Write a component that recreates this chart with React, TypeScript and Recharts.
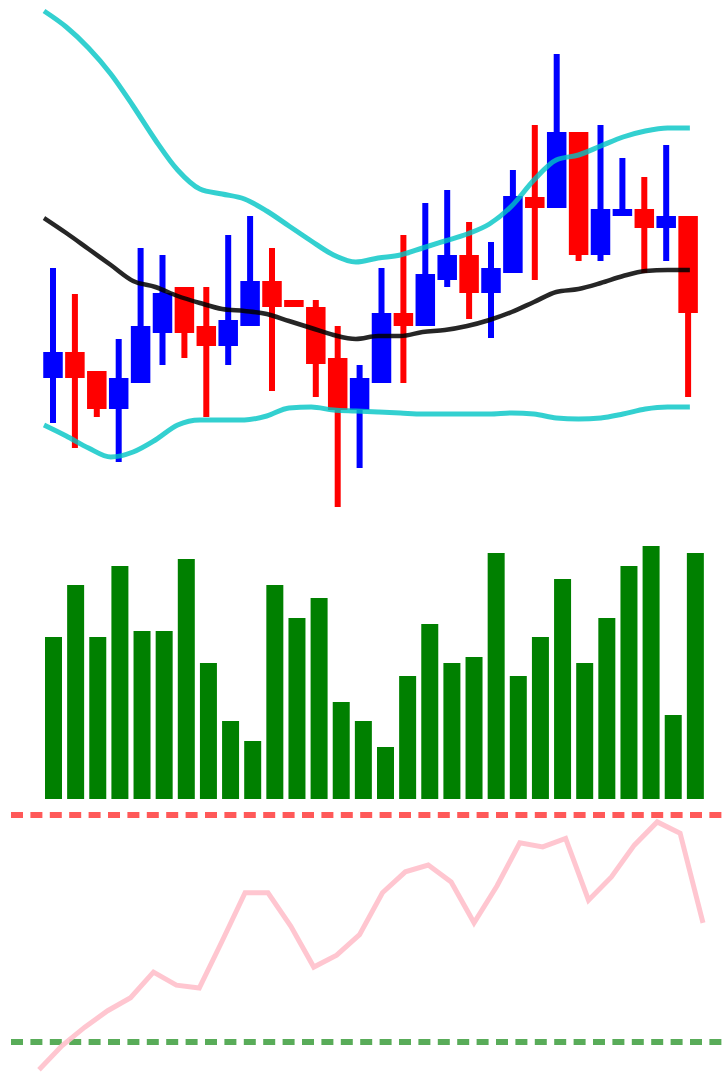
import { ComposedChart, BarChart, LineChart, Bar, Line, XAxis, YAxis, ReferenceLine } from "recharts";

// candles
const opens = [88.2, 90.8, 88.9, 85.1, 87.7, 92.7, 97.3, 93.4, 91.4, 93.4, 97.9, 96.0, 95.3, 90.2, 85.0, 87.7, 94.7, 93.4, 98.0, 100.5, 96.7, 98.7, 106.3, 105.2, 112.8, 100.5, 104.4, 105.1, 103.2, 104.4];
const highs = [99.2, 96.6, 88.9, 92.1, 101.2, 100.5, 97.3, 97.3, 102.5, 104.4, 101.2, 96.0, 96.0, 93.4, 89.5, 99.2, 102.5, 105.7, 107.0, 103.8, 101.8, 109.0, 113.5, 120.6, 112.8, 113.5, 110.2, 108.3, 111.5, 104.4];
const lows = [83.7, 81.2, 84.3, 79.8, 87.7, 89.5, 90.2, 84.3, 89.5, 93.4, 86.9, 95.3, 86.3, 75.3, 79.2, 87.7, 87.7, 93.4, 97.3, 94.1, 92.2, 98.7, 98.0, 105.2, 99.9, 99.9, 104.4, 98.7, 99.9, 86.3];
const closes = [90.8, 88.2, 85.1, 88.2, 93.4, 96.7, 92.7, 91.4, 94.0, 97.9, 95.3, 95.3, 89.6, 85.0, 88.2, 94.7, 93.4, 98.6, 100.5, 96.7, 99.2, 106.4, 105.2, 112.8, 100.5, 105.1, 105.1, 103.2, 104.4, 94.7];

// bollinger bands
const upperBand = [124.9, 123.3, 121.2, 118.6, 115.4, 112.0, 109.0, 107.1, 106.6, 106.1, 104.9, 103.4, 101.9, 100.5, 99.8, 100.2, 100.5, 101.2, 101.9, 102.6, 103.6, 105.4, 108.0, 110.0, 110.5, 111.4, 112.3, 112.9, 113.2, 113.2];
const middleBand = [104.2, 102.7, 101.1, 99.5, 97.9, 97.3, 96.4, 95.7, 95.1, 94.9, 94.6, 93.9, 93.2, 92.5, 92.1, 92.4, 92.4, 92.8, 93.0, 93.4, 94.0, 94.8, 95.8, 96.8, 97.1, 97.7, 98.4, 98.9, 99.0, 99.0];
const lowerBand = [83.5, 82.4, 81.2, 80.3, 80.8, 82.0, 83.5, 84.0, 84.0, 84.0, 84.4, 85.2, 85.3, 85.0, 84.9, 84.8, 84.7, 84.6, 84.6, 84.6, 84.6, 84.7, 84.6, 84.2, 84.1, 84.2, 84.6, 85.1, 85.3, 85.3];

const volumes = [1620, 2140, 1620, 2330, 1680, 1680, 2400, 1360, 780, 580, 2140, 1810, 2010, 970, 780, 520, 1230, 1750, 1360, 1420, 2460, 1230, 1620, 2200, 1360, 1810, 2330, 2530, 840, 2460];

const rsi = [25.1, 29.3, 32.6, 35.5, 37.8, 42.3, 40.0, 39.5, 47.8, 56.3, 56.3, 50.4, 43.2, 45.3, 48.9, 56.3, 60.0, 61.2, 58.2, 51.0, 57.5, 65.1, 64.4, 65.9, 55.0, 59.1, 64.7, 68.8, 66.8, 51.0];

const data = opens.map((o, i) => ({
  i,
  t: `d${i}`,
  open: o,
  high: highs[i],
  low: lows[i],
  close: closes[i],
  upper: upperBand[i],
  middle: middleBand[i],
  lower: lowerBand[i],
  volume: volumes[i],
  rsi: rsi[i],
}));

const Candle = (props: any) => {
  const { x, y, width, height, payload } = props;
  const { open, close, high, low } = payload;
  const top = Math.min(y, y + height);
  const h = Math.abs(height);
  const span = high - low;
  const py = (v: number) => (span === 0 ? top : top + ((high - v) / span) * h);
  const cx = x + width / 2;
  const color = close >= open ? "#0000ff" : "#ff0000";
  const bTop = py(Math.max(open, close));
  const bBot = py(Math.min(open, close));
  return (
    <g>
      <rect x={cx - 3} y={top} width={6} height={Math.max(h, 1)} fill={color} />
      <rect x={cx - 9.75} y={bTop} width={19.5} height={Math.max(bBot - bTop, 2)} fill={color} />
    </g>
  );
};

export default function App() {
  return (
    <div style={{ position: "fixed", left: 0, top: 0, width: 722, height: 1074, overflow: "hidden", background: "#fff" }}>
      <div style={{ position: "absolute", left: 0, top: 645 }}>
        <LineChart width={722} height={567} data={data} margin={{ top: 0, right: 0, bottom: 0, left: 11 }}>
          <XAxis dataKey="t" hide padding={{ left: 28, right: 19 }} />
          <YAxis hide domain={[0, 100]} />
          <ReferenceLine y={70} stroke="#ff0000" strokeOpacity={0.65} strokeWidth={6} strokeDasharray="12 7.4" />
          <ReferenceLine y={30} stroke="#008000" strokeOpacity={0.65} strokeWidth={6} strokeDasharray="12 7.4" />
          <Line dataKey="rsi" stroke="#ffc0cb" strokeOpacity={0.9} strokeWidth={5} dot={false} isAnimationActive={false} />
        </LineChart>
      </div>
      <div style={{ position: "absolute", left: 0, top: 519 }}>
        <BarChart width={722} height={280} data={data} margin={{ top: 0, right: 16, bottom: 0, left: 42 }}>
          <XAxis dataKey="t" hide />
          <YAxis hide domain={[0, 2800]} />
          <Bar dataKey="volume" fill="#008000" barSize={17} isAnimationActive={false} />
        </BarChart>
      </div>
      <div style={{ position: "absolute", left: 0, top: 0 }}>
        <ComposedChart width={722} height={520} data={data} margin={{ top: 0, right: 23, bottom: 0, left: 42 }}>
          <XAxis xAxisId="c" dataKey="t" hide />
          <XAxis xAxisId="n" dataKey="i" type="number" domain={[-0.09, 29.41]} hide allowDataOverflow />
          <YAxis hide domain={[74, 126]} allowDataOverflow />
          <Bar xAxisId="c" dataKey={(d: any) => [d.low, d.high]} barSize={20} shape={Candle} isAnimationActive={false} />
          <Line xAxisId="n" type="monotone" dataKey="upper" stroke="#00c4c4" strokeOpacity={0.8} strokeWidth={5} dot={false} isAnimationActive={false} />
          <Line xAxisId="n" type="monotone" dataKey="lower" stroke="#00c4c4" strokeOpacity={0.8} strokeWidth={5} dot={false} isAnimationActive={false} />
          <Line xAxisId="n" type="monotone" dataKey="middle" stroke="#000000" strokeOpacity={0.85} strokeWidth={4.5} dot={false} isAnimationActive={false} />
        </ComposedChart>
      </div>
    </div>
  );
}
